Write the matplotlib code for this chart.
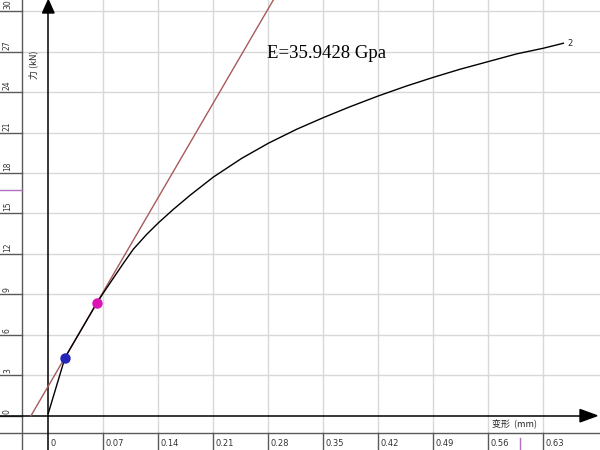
import matplotlib
matplotlib.use("Agg")
import matplotlib.pyplot as plt
from matplotlib.patches import Polygon

# ---------------- data ----------------
x_ticks = [0.07, 0.14, 0.21, 0.28, 0.35, 0.42, 0.49, 0.56, 0.63]
x_tick_labels = ["0.07", "0.14", "0.21", "0.28", "0.35", "0.42", "0.49", "0.56", "0.63"]
y_ticks = [0, 3, 6, 9, 12, 15, 18, 21, 24, 27, 30]
y_tick_labels = ["0", "3", "6", "9", "12", "15", "18", "21", "24", "27", "30"]

curve_x = [0.0, 0.0213, 0.0616, 0.070, 0.0827, 0.0955, 0.1082, 0.1252, 0.140,
           0.159, 0.1804, 0.210, 0.2461, 0.280, 0.3161, 0.350, 0.384, 0.420,
           0.456, 0.490, 0.524, 0.560, 0.596, 0.630, 0.6556]
curve_y = [0.18, 4.31, 8.34, 9.1, 10.2, 11.3, 12.35, 13.45, 14.3,
           15.3, 16.35, 17.7, 19.09, 20.21, 21.25, 22.11, 22.92, 23.72,
           24.46, 25.1, 25.7, 26.27, 26.84, 27.26, 27.63]

point_blue = (0.0213, 4.31)
point_pink = (0.0616, 8.34)

tangent_slope = 100.0      # kN/mm
tangent_intercept = 2.2    # kN
tangent_x_range = [-0.022, 0.29]

modulus_text = "E=35.9428 Gpa"
curve_label = "2"
x_label = "变形  (mm)"
y_label = "力 (kN)"

# ---------------- layout helpers (pixel -> data) ----------------
W, H = 600, 450
X0PX, PXX = 48.3, 785.7     # pixel of x=0, pixels per mm
Y0PY, PXY = 415.7, 13.48    # pixel (from top) of y=0, pixels per kN


def dx(px):
    return (px - X0PX) / PXX


def dy(py):
    return (Y0PY - py) / PXY


fig = plt.figure(figsize=(6, 4.5), dpi=100)
ax = fig.add_axes([0, 0, 1, 1])
ax.set_xlim(dx(0), dx(W))
ax.set_ylim(dy(H), dy(0))
ax.axis("off")

grid_c = "#d8d8d8"
ruler_c = "#5a5a5a"
text_c = "#333333"

# vertical gridlines + bottom ruler ticks
for xv in x_ticks:
    ax.plot([xv, xv], [dy(0), dy(433)], color=grid_c, lw=1.0, zorder=1)
    ax.plot([xv, xv], [dy(433), dy(H)], color=ruler_c, lw=1.0, zorder=2)

# horizontal gridlines + left ruler ticks
for yv in y_ticks[1:]:
    ax.plot([dx(22), dx(W)], [yv, yv], color=grid_c, lw=1.0, zorder=1)
for yv in y_ticks:
    ax.plot([dx(0), dx(22)], [yv, yv], color=ruler_c, lw=1.0, zorder=2)

# rulers
ax.plot([dx(22), dx(22)], [dy(0), dy(H)], color=ruler_c, lw=1.0, zorder=2)
ax.plot([dx(0), dx(W)], [dy(433), dy(433)], color=ruler_c, lw=1.0, zorder=2)

# purple markers
ax.plot([dx(0), dx(22)], [dy(190), dy(190)], color="#b070c0", lw=1.0, zorder=3)
ax.plot([dx(520), dx(520)], [dy(438), dy(449)], color="#b070c0", lw=1.0, zorder=3)

# axes with arrows
ax.plot([0, 0], [dy(H), dy(10)], color="black", lw=1.1, zorder=4)
ax.plot([dx(0), dx(585)], [0, 0], color="black", lw=1.1, zorder=4)
ax.add_patch(Polygon([[dx(48.3), dy(0)], [dx(42.5), dy(13)], [dx(54.1), dy(13)]],
                     closed=True, color="black", zorder=5))
ax.add_patch(Polygon([[dx(597), dy(415.7)], [dx(580), dy(409.5)], [dx(580), dy(421.9)]],
                     closed=True, color="black", zorder=5))

# tick labels
for yv, lab in zip(y_ticks, y_tick_labels):
    ax.text(dx(7.5), yv + 2 / PXY, lab, rotation=90, ha="center", va="bottom",
            fontsize=5.5, color=text_c, zorder=6)
ax.text(dx(51), dy(444), "0", ha="left", va="center", fontsize=6, color=text_c)
for xv, lab in zip(x_ticks, x_tick_labels):
    ax.text(xv + 2.5 / PXX, dy(444), lab, ha="left", va="center",
            fontsize=6, color=text_c, zorder=6)

# axis titles
ax.text(dx(492), dy(424), x_label, ha="left", va="center", fontsize=6.5,
        color="#222222", family=["Noto Sans CJK SC", "DejaVu Sans"], zorder=6)
ax.text(dx(33), dy(65), y_label, rotation=90, ha="center", va="center",
        fontsize=6.5, color="#222222", family=["Noto Sans CJK SC", "DejaVu Sans"], zorder=6)

# tangent line
tx = tangent_x_range
ty = [tangent_intercept + tangent_slope * v for v in tx]
ax.plot(tx, ty, color="#a85a5a", lw=1.0, zorder=7)

# curve
ax.plot(curve_x, curve_y, color="black", lw=1.0, zorder=8)
ax.text(curve_x[-1] + 4 / PXX, curve_y[-1], curve_label, ha="left", va="center",
        fontsize=6, color="#222222", zorder=9)

# points
ax.plot([point_blue[0]], [point_blue[1]], "o", ms=6.5, color="#2424b8", zorder=10)
ax.plot([point_pink[0]], [point_pink[1]], "o", ms=6.5, color="#dc14b4", zorder=10)

# modulus label
ax.text(dx(267), dy(53), modulus_text, ha="left", va="center", fontsize=13.5,
        family="Liberation Serif", color="black", zorder=9)

fig.savefig("out.png", dpi=100)
